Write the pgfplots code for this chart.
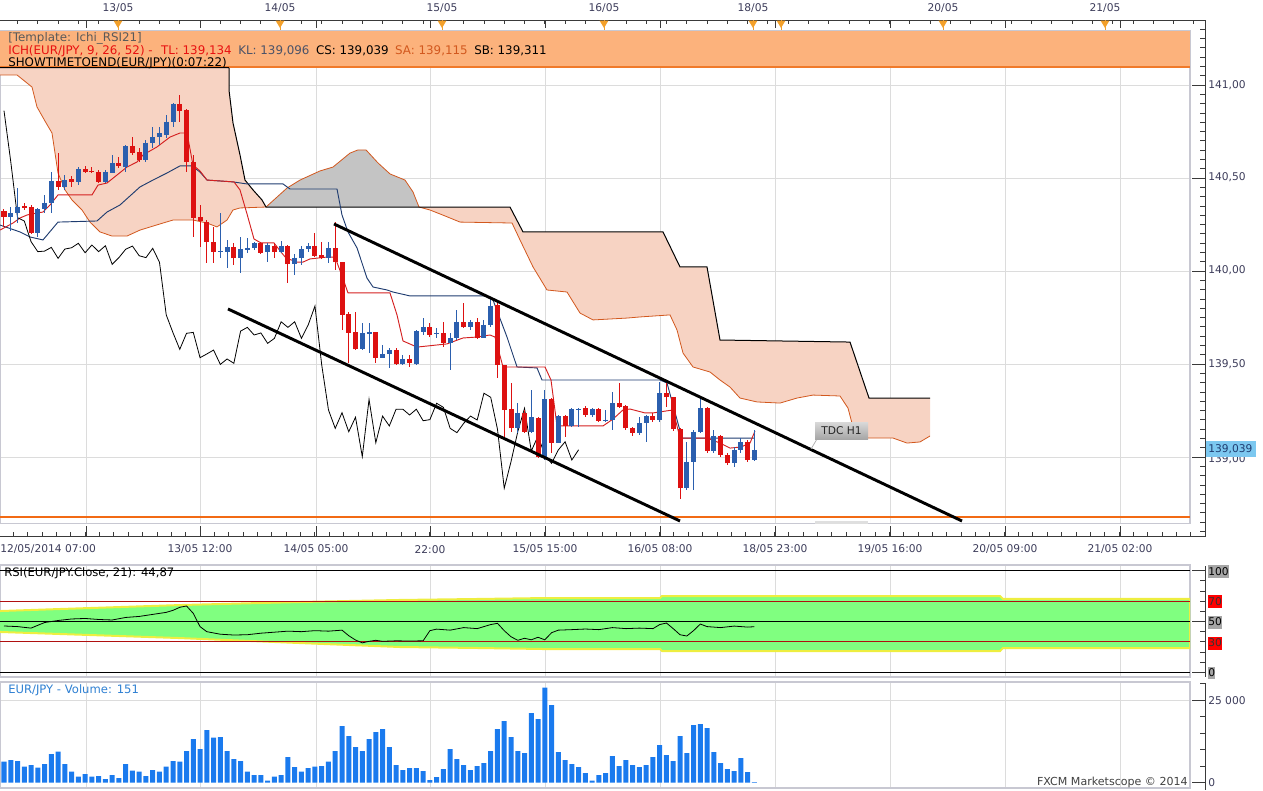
\documentclass[border=0pt]{standalone}
\usepackage{pgfplots}
\pgfplotsset{compat=1.18}
\usepackage{pgfplotstable}
\usepackage{fontspec}
\setmainfont{DejaVu Sans}

\definecolor{upc}{HTML}{2B5FAE}
\definecolor{dnc}{HTML}{DD1111}
\definecolor{tenkan}{HTML}{D42020}
\definecolor{kijun}{HTML}{1F3C70}
\definecolor{sacol}{HTML}{D2581E}
\definecolor{salmon}{HTML}{F7D3C3}
\definecolor{graycloud}{HTML}{C4C4C4}
\definecolor{gridc}{HTML}{DCDCDC}
\definecolor{bordc}{HTML}{C8C8D2}
\definecolor{axc}{HTML}{3A3A3A}
\definecolor{datec}{HTML}{3C3C5A}
\definecolor{headfill}{HTML}{FCB27C}
\definecolor{headline}{HTML}{F07A2A}
\definecolor{ichred}{HTML}{E81010}
\definecolor{klcol}{HTML}{4A5268}
\definecolor{volblue}{HTML}{1A7AEE}
\definecolor{voltext}{HTML}{2E7FD2}
\definecolor{rsigreen}{HTML}{80FF80}
\definecolor{rsiyellow}{HTML}{EEEE40}
\definecolor{rsired}{HTML}{B01010}
\definecolor{hline}{HTML}{F26A14}
\definecolor{pricebox}{HTML}{7CC8F0}
\definecolor{tri}{HTML}{F3A02A}

\pgfplotstableread{
x o h l c
10.76 140.292 140.346 140.217 140.313
17.52 140.313 140.446 140.258 140.346
37.8 140.206 140.339 140.184 140.333
44.56 140.332 140.409 140.312 140.367
51.32 140.367 140.534 140.312 140.486
64.84 140.453 140.516 140.436 140.489
78.36 140.480 140.561 140.462 140.548
105.4 140.480 140.543 140.472 140.534
112.16 140.529 140.624 140.525 140.582
125.68 140.561 140.677 140.534 140.672
145.96 140.597 140.704 140.588 140.690
152.72 140.687 140.776 140.660 140.719
159.48 140.719 140.776 140.677 140.740
166.24 140.731 140.839 140.713 140.803
173 140.803 140.902 140.776 140.898
220.32 140.101 140.310 140.068 140.107
227.08 140.104 140.167 140.015 140.127
240.6 140.068 140.184 139.988 140.118
247.36 140.113 140.177 140.095 140.125
254.12 140.122 140.158 140.113 140.149
267.64 140.101 140.149 140.050 140.140
281.16 140.104 140.161 140.095 140.136
294.68 140.036 140.090 139.979 140.072
301.44 140.072 140.134 140.032 140.117
308.2 140.117 140.149 140.104 140.134
328.48 140.068 140.158 140.041 140.122
362.28 139.579 139.719 139.575 139.665
369.04 139.661 139.719 139.558 139.670
382.56 139.534 139.602 139.531 139.554
389.32 139.552 139.584 139.477 139.575
402.84 139.498 139.548 139.495 139.527
416.36 139.500 139.683 139.497 139.677
423.12 139.674 139.746 139.656 139.697
436.64 139.662 139.692 139.638 139.667
450.16 139.611 139.665 139.468 139.638
456.92 139.638 139.790 139.629 139.727
470.44 139.700 139.737 139.683 139.727
483.96 139.638 139.737 139.638 139.710
490.72 139.710 139.853 139.700 139.812
517.76 139.154 139.289 139.127 139.238
531.28 139.136 139.360 139.127 139.214
544.8 139.002 139.360 138.984 139.310
558.32 139.077 139.226 139.074 139.220
571.84 139.167 139.263 139.163 139.257
578.6 139.252 139.263 139.163 139.257
592.12 139.226 139.263 139.217 139.257
605.64 139.196 139.253 139.190 139.201
612.4 139.199 139.351 139.145 139.289
639.44 139.131 139.217 139.118 139.181
646.2 139.181 139.226 139.082 139.220
659.72 139.199 139.405 139.190 139.343
686.76 138.832 139.082 138.823 138.975
693.52 138.975 139.145 138.823 139.136
700.28 139.136 139.316 139.127 139.262
713.8 139.032 139.145 139.020 139.113
734.08 138.966 139.055 138.948 139.038
740.84 139.038 139.100 139.020 139.082
754.36 138.984 139.145 138.980 139.039
}\upc

\pgfplotstableread{
x o h l c
4 140.324 140.333 140.238 140.292
24.28 140.349 140.366 140.328 140.339
31.04 140.344 140.355 140.204 140.206
58.08 140.486 140.633 140.436 140.453
71.6 140.493 140.511 140.453 140.480
85.12 140.548 140.565 140.525 140.531
91.88 140.538 140.561 140.525 140.532
98.64 140.534 140.543 140.472 140.480
118.92 140.582 140.615 140.552 140.565
132.44 140.672 140.722 140.624 140.636
139.2 140.641 140.661 140.586 140.597
179.76 140.898 140.946 140.803 140.862
186.52 140.866 140.870 140.532 140.588
193.28 140.588 140.624 140.184 140.287
200.04 140.289 140.355 140.131 140.269
206.8 140.265 140.274 140.041 140.158
213.56 140.158 140.238 140.041 140.104
233.84 140.131 140.151 140.032 140.068
260.88 140.149 140.158 140.091 140.098
274.4 140.136 140.149 140.068 140.104
287.92 140.136 140.140 139.934 140.036
314.96 140.134 140.203 140.077 140.082
321.72 140.086 140.158 140.068 140.072
335.24 140.122 140.265 140.005 140.047
342 140.047 140.050 139.683 139.764
348.76 139.767 139.781 139.504 139.668
355.52 139.670 139.781 139.575 139.579
375.8 139.670 139.674 139.504 139.534
396.08 139.575 139.584 139.495 139.498
409.6 139.527 139.548 139.486 139.504
429.88 139.697 139.719 139.647 139.656
443.4 139.665 139.727 139.593 139.611
463.68 139.724 139.826 139.692 139.697
477.2 139.727 139.746 139.634 139.638
497.48 139.817 139.826 139.423 139.495
504.24 139.495 139.495 139.091 139.253
511 139.257 139.396 139.136 139.154
524.52 139.238 139.253 139.127 139.136
538.04 139.208 139.217 138.995 139.002
551.56 139.310 139.315 139.020 139.077
565.08 139.220 139.226 139.109 139.167
585.36 139.262 139.274 139.217 139.226
598.88 139.257 139.263 139.190 139.195
619.16 139.289 139.396 139.262 139.267
625.92 139.274 139.280 139.145 139.154
632.68 139.154 139.163 139.113 139.131
652.96 139.220 139.235 139.190 139.199
666.48 139.343 139.396 139.270 139.321
673.24 139.321 139.324 139.140 139.149
680 139.149 139.154 138.773 138.832
707.04 139.262 139.271 139.020 139.032
720.56 139.113 139.118 139.002 139.011
727.32 139.011 139.020 138.957 138.966
747.6 139.082 139.091 138.975 138.984
}\dnc

\pgfplotstableread{
x v
4 6350
10.76 6850
17.52 6550
24.28 4840
31.04 5340
37.8 4540
44.56 5650
51.32 8670
58.08 9380
64.84 5650
71.6 3330
78.36 1810
85.12 2620
91.88 1810
98.64 2020
105.4 1110
112.16 2320
118.92 1410
125.68 5650
132.44 3630
139.2 3330
145.96 2020
152.72 3830
159.48 3330
166.24 4840
173 6550
179.76 6350
186.52 9580
193.28 13200
200.04 10180
206.8 15930
213.56 13610
220.32 13810
227.08 9580
233.84 7160
240.6 6550
247.36 3330
254.12 2320
260.88 2320
267.64 600
274.4 1810
281.16 2320
287.92 7760
294.68 4740
301.44 3330
308.2 4440
314.96 4840
321.72 5040
328.48 6350
335.24 9580
342 17140
348.76 14110
355.52 10790
362.28 9580
369.04 13200
375.8 15320
382.56 16230
389.32 10790
396.08 5340
402.84 3830
409.6 4440
416.36 4440
423.12 3530
429.88 810
436.64 1710
443.4 4130
450.16 10180
456.92 7160
463.68 5340
470.44 3830
477.2 5040
483.96 5950
490.72 9580
497.48 16230
504.24 18650
511 13810
517.76 9580
524.52 8970
531.28 21070
538.04 19250
544.8 28730
551.56 23490
558.32 9270
565.08 6850
571.84 5650
578.6 4740
585.36 2920
592.12 600
598.88 2320
605.64 2920
612.4 8060
619.16 5040
625.92 6850
632.68 5340
639.44 4740
646.2 5340
652.96 7760
659.72 11390
666.48 8370
673.24 6550
680 14110
686.76 8970
693.52 17440
700.28 17740
707.04 16530
713.8 9270
720.56 5950
727.32 4130
734.08 3530
740.84 7460
747.6 3230
754.36 151
}\vol

\pgfplotstableread{
x p
4 140.862
10.76 140.588
17.52 140.287
24.28 140.269
31.04 140.158
37.8 140.104
44.56 140.107
51.32 140.127
58.08 140.068
64.84 140.118
71.6 140.125
78.36 140.149
85.12 140.098
91.88 140.140
98.64 140.104
105.4 140.136
112.16 140.036
118.92 140.072
125.68 140.117
132.44 140.134
139.2 140.082
145.96 140.072
152.72 140.122
159.48 140.047
166.24 139.764
173 139.668
179.76 139.579
186.52 139.665
193.28 139.670
200.04 139.534
206.8 139.554
213.56 139.575
220.32 139.498
227.08 139.527
233.84 139.504
240.6 139.677
247.36 139.697
254.12 139.656
260.88 139.667
267.64 139.611
274.4 139.638
281.16 139.727
287.92 139.697
294.68 139.727
301.44 139.638
308.2 139.710
314.96 139.812
321.72 139.495
328.48 139.253
335.24 139.154
342 139.238
348.76 139.136
355.52 139.214
362.28 139.002
369.04 139.310
375.8 139.077
382.56 139.220
389.32 139.167
396.08 139.257
402.84 139.257
409.6 139.226
416.36 139.257
423.12 139.195
429.88 139.201
436.64 139.289
443.4 139.267
450.16 139.154
456.92 139.131
463.68 139.181
470.44 139.220
477.2 139.199
483.96 139.343
490.72 139.321
497.48 139.149
504.24 138.832
511 138.975
517.76 139.136
524.52 139.262
531.28 139.032
538.04 139.113
544.8 139.011
551.56 138.966
558.32 139.038
565.08 139.082
571.84 138.984
578.6 139.039
}\chikou

\pgfplotstableread{
x r
4 45.6
17.5 45
31 43.5
44.6 49
58.1 51
71.6 52.5
85.1 53
98.6 52
112.2 51.5
125.7 54
139.2 55
152.7 57
166.2 59
173 61
179.8 64
186.5 65.3
193.3 58
200 45
206.8 40
220.3 37.5
233.8 36.7
247.4 37
260.9 38.5
274.4 39.5
287.9 40.5
301.4 40
315 41
328.5 40.5
342 41.5
348.8 36
355.5 31.8
362.3 29
369 30.5
375.8 31.5
382.6 30.5
396.1 31
409.6 30.8
423.1 31
429.9 41
436.6 42.5
450.2 41.5
463.7 44
477.2 43
490.7 47
497.5 48.2
504.2 41
511 35
517.8 31.5
524.5 33.5
531.3 32
538 34.5
544.8 32
551.6 39
558.3 41.5
571.8 42
585.4 42.6
598.9 42
612.4 44
625.9 43
639.4 43.5
653 43
659.7 47
666.5 48.5
673.2 43
680 37
686.8 35.7
693.5 41
700.3 47.5
707 45
720.6 44
734.1 45.5
747.6 44.5
754.4 44.9
}\rsi

\pgfplotsset{
  panel/.style={scale only axis, width=892.5pt, xmin=0, xmax=1190,
    anchor=north west, axis line style={draw=bordc, line width=1.1pt},
    xtick={86,200,316,430,545,660,775,890,1005,1120}, xticklabels={},
    yticklabels={}, major tick length=0pt, scaled y ticks=false, scaled x ticks=false,
    xmajorgrids, major grid style={draw=gridc, line width=0.75pt}},
  wick/.style={draw=none, mark=none, forget plot,
    error bars/.cd, y dir=both, y explicit, error mark=none,
    error bar style={line width=0.75pt, draw=#1}},
  body/.style={draw=none, mark=none, forget plot,
    error bars/.cd, y dir=both, y explicit, error mark=none,
    error bar style={line width=3.75pt, draw=#1}},
}

\begin{document}
\begin{tikzpicture}
\useasboundingbox (0,0) rectangle (947.25pt,-592.5pt);

% ---------------- main price panel ----------------
\begin{axis}[panel, at={(0pt,-23.25pt)}, height=369.375pt,
  ymin=138.6425, ymax=141.2903, ytick={139,139.5,140,140.5,141}, ymajorgrids]
% cloud fills
\addplot[fill=salmon, draw=none, forget plot] coordinates {
(0,141.054) (17,141.054) (32,140.989) (37,140.882) (45,140.806) (52,140.742)
(58,140.527) (65,140.436) (72,140.382) (82,140.328) (90,140.263) (100,140.210)
(112,140.188) (127,140.188) (140,140.220) (160,140.253) (173,140.274) (193,140.274)
(207,140.258) (217,140.237) (227,140.274) (233,140.328) (240,140.339) (266,140.344)
(262,140.382) (253,140.436) (245,140.489) (240,140.624) (233,140.796) (229,140.973)
(229,141.094) (0,141.094)};
\addplot[fill=graycloud, draw=none, forget plot] coordinates {
(266,140.344) (287,140.446) (300,140.489) (320,140.538) (333,140.559) (350,140.634)
(358,140.651) (366,140.651) (378,140.581) (390,140.522) (405,140.489) (413,140.425)
(419,140.344)};
\addplot[fill=salmon, draw=none, forget plot] coordinates {
(419,140.344) (430,140.328) (445,140.296) (460,140.263) (512,140.258) (520,140.167)
(533,140.022) (547,139.898) (567,139.887) (580,139.774) (593,139.737) (627,139.747)
(640,139.753) (670,139.764) (677,139.683) (683,139.559) (693,139.484) (710,139.457)
(720,139.414) (730,139.376) (740,139.317) (757,139.296) (780,139.290) (797,139.317)
(813,139.333) (840,139.328) (848,139.263) (853,139.161) (867,139.102) (893,139.102)
(907,139.075) (920,139.081) (930,139.113)
(930,139.317) (869,139.317) (850,139.618) (720,139.629) (707,140.022) (680,140.022)
(663,140.210) (523,140.210) (510,140.344)};
% Senkou A
\addplot[sacol, line width=0.6pt, forget plot] coordinates {
(0,141.054) (17,141.054) (32,140.989) (37,140.882) (45,140.806) (52,140.742)
(58,140.527) (65,140.436) (72,140.382) (82,140.328) (90,140.263) (100,140.210)
(112,140.188) (127,140.188) (140,140.220) (160,140.253) (173,140.274) (193,140.274)
(207,140.258) (217,140.237) (227,140.274) (233,140.328) (240,140.339) (266,140.344)
(287,140.446) (300,140.489) (320,140.538) (333,140.559) (350,140.634)
(358,140.651) (366,140.651) (378,140.581) (390,140.522) (405,140.489) (413,140.425)
(419,140.344) (430,140.328) (445,140.296) (460,140.263) (512,140.258) (520,140.167)
(533,140.022) (547,139.898) (567,139.887) (580,139.774) (593,139.737) (627,139.747)
(640,139.753) (670,139.764) (677,139.683) (683,139.559) (693,139.484) (710,139.457)
(720,139.414) (730,139.376) (740,139.317) (757,139.296) (780,139.290) (797,139.317)
(813,139.333) (840,139.328) (848,139.263) (853,139.161) (867,139.102) (893,139.102)
(907,139.075) (920,139.081) (930,139.113)};
% Senkou B
\addplot[black, line width=0.75pt, forget plot] coordinates {
(0,141.094) (229,141.094) (229,140.973) (233,140.796) (240,140.624) (245,140.489)
(253,140.436) (262,140.382) (266,140.344) (510,140.344) (523,140.210) (663,140.210)
(680,140.022) (707,140.022) (720,139.629) (850,139.618) (869,139.317) (930,139.317)};
% Kijun
\addplot[kijun, line width=0.7pt, forget plot] coordinates {
(0,140.247) (20,140.210) (30,140.183) (43,140.167) (58,140.263) (97,140.269)
(107,140.317) (120,140.355) (140,140.452) (153,140.489) (167,140.527) (180,140.565)
(192,140.565) (200,140.532) (207,140.489) (233,140.479) (247,140.468) (283,140.468)
(290,140.441) (337,140.441) (342,140.301) (348,140.210) (357,140.124) (367,139.962)
(373,139.914) (387,139.898) (393,139.887) (410,139.866) (487,139.866) (493,139.844)
(507,139.645) (517,139.484) (537,139.479) (542,139.414) (660,139.414) (667,139.398)
(682,139.102) (754,139.102)};
% Tenkan
\addplot[tenkan, line width=0.7pt, forget plot] coordinates {
(0,140.220) (13,140.258) (20,140.285) (27,140.301) (37,140.312) (43,140.317)
(50,140.355) (58,140.409) (92,140.409) (98,140.462) (107,140.473) (117,140.516)
(127,140.559) (137,140.586) (143,140.624) (157,140.667) (170,140.720) (180,140.742)
(187,140.742) (193,140.570) (200,140.538) (207,140.489) (234,140.479) (240,140.436)
(247,140.307) (254,140.172) (261,140.151) (274,140.151) (281,140.102) (286,140.070)
(297,140.048) (303,140.048) (310,140.065) (327,140.075) (335,140.075) (342,139.974)
(348,139.882) (390,139.882) (397,139.764) (403,139.624) (417,139.591) (447,139.608)
(463,139.640) (477,139.645) (490,139.656) (495,139.645) (503,139.484) (545,139.484)
(551,139.414) (557,139.167) (603,139.167) (613,139.204) (623,139.253) (630,139.258)
(645,139.237) (653,139.237) (673,139.253) (680,139.102) (707,139.102) (720,139.075)
(730,139.048) (741,139.054) (750,139.075) (755,139.140)};
% Chikou
\addplot[black, line width=0.6pt, forget plot] table[x=x, y=p] {\chikou};
% support level
\addplot[hline, line width=1.5pt, forget plot] coordinates {(0,138.677) (1190,138.677)};
% candles
\addplot[wick=upc] table[x=x, y=c, y error plus expr=\thisrow{h}-\thisrow{c}, y error minus expr=\thisrow{c}-\thisrow{l}] {\upc};
\addplot[wick=dnc] table[x=x, y=c, y error plus expr=\thisrow{h}-\thisrow{c}, y error minus expr=\thisrow{c}-\thisrow{l}] {\dnc};
\addplot[body=upc] table[x=x, y=c, y error plus expr=0, y error minus expr=\thisrow{c}-\thisrow{o}] {\upc};
\addplot[body=dnc] table[x=x, y=c, y error plus expr=\thisrow{o}-\thisrow{c}, y error minus expr=0] {\dnc};
% trend channel
\addplot[black, line width=2.2pt, forget plot] coordinates {(334,140.253) (962,138.656)};
\addplot[black, line width=2.2pt, forget plot] coordinates {(228,139.796) (680,138.656)};
\end{axis}

% ---------------- RSI panel ----------------
\begin{axis}[panel, at={(0pt,-423.75pt)}, height=84pt,
  ymin=-4.63, ymax=105.61, ytick=\empty]
\addplot[fill=rsigreen, draw=rsiyellow, line width=1.5pt, forget plot] coordinates {
(0,60.3) (60,62.3) (180,66.2) (300,69.2) (400,71.2) (480,72.2) (545,73.1) (660,73.1)
(662,75.1) (1000,75.1) (1003,72.2) (1190,72.2)
(1190,23.9) (1003,23.9) (1000,20.9) (662,20.9) (660,22.9) (545,22.9) (480,23.9)
(400,24.9) (300,28.8) (180,33.7) (60,37.7) (0,39.7)};
\addplot[black, line width=0.8pt, forget plot] coordinates {(0,100) (1190,100)};
\addplot[black, line width=0.8pt, forget plot] coordinates {(0,50) (1190,50)};
\addplot[black, line width=0.8pt, forget plot] coordinates {(0,0) (1190,0)};
\addplot[rsired, line width=0.9pt, forget plot] coordinates {(0,70) (1190,70)};
\addplot[rsired, line width=0.9pt, forget plot] coordinates {(0,30) (1190,30)};
\addplot[black, line width=0.6pt, forget plot] table[x=x, y=r] {\rsi};
\end{axis}

% ---------------- volume panel ----------------
\begin{axis}[panel, at={(0pt,-511.5pt)}, height=79.5pt,
  ymin=-1602, ymax=30442, ytick={25000}, ymajorgrids]
\addplot[ybar, bar width=3.75pt, bar shift=0pt, fill=volblue, draw=none, forget plot] table[x=x, y=v] {\vol};
\end{axis}

% ---------------- decorations & text ----------------
\begin{scope}[x=0.75pt, y=-0.75pt, every node/.style={font=\fontsize{8}{9.6}\selectfont, inner sep=0pt}]
% header band
\fill[headfill] (0,31) rectangle (1190,67);
\draw[headline, line width=1.1pt] (0,67) -- (1190,67);
\draw[black, line width=0.6pt] (0,67.5) -- (229,67.5);
\begin{scope}[every node/.style={font=\fontsize{8.9}{10.5}\selectfont, inner sep=0pt}]
\node[anchor=west, text=black!65] at (8,38.5) {[Template: Ichi\_RSI21]};
\node[anchor=west] at (8,51.5) {\color{ichred}ICH(EUR/JPY, 9, 26, 52) -\hspace{0.7em}TL: 139,134\hspace{0.55em}\color{klcol}KL: 139,096\hspace{0.55em}\color{black}CS: 139,039\hspace{0.55em}\color{sacol}SA: 139,115\hspace{0.55em}\color{black}SB: 139,311};
\node[anchor=west] at (8,63.5) {SHOWTIMETOEND(EUR/JPY)(0:07:22)};
\end{scope}

% outer frame of the price panel
\draw[axc, line width=0.75pt] (0,20) -- (1205,20) -- (1205,536) -- (0,536);
\foreach \i in {0,...,58} \draw[axc, line width=0.6pt] ({17.5+20.28*\i},20) -- ++(0,4);
\foreach \x in {86,200,316,430,545,660,775,890,1005,1120} {
  \draw[axc, line width=0.6pt] (\x,20) -- ++(0,8);
  \draw[axc, line width=0.6pt] (\x,536) -- ++(0,-10);
}
\foreach \i in {0,...,82} \draw[axc, line width=0.6pt] ({13.3+14.36*\i},536) -- ++(0,-4);
\foreach \x in {118,280,442,604,753,781,943,1105} {
  \draw[tri, line width=0.6pt] (\x,20) -- (\x,30);
  \fill[tri] (\x-4.5,20.5) -- (\x+4.5,20.5) -- (\x,28) -- cycle;
}
\foreach \k in {-6,...,48} \draw[axc, line width=0.6pt] (1205,{85+9.3*\k}) -- ++(-5,0);
\foreach \y in {85,178,271,364,457} \draw[axc, line width=0.6pt] (1205,\y) -- ++(-13,0);

% top dates
\node[text=datec] at (118,8.5) {13/05};
\node[text=datec] at (280,8.5) {14/05};
\node[text=datec] at (442,8.5) {15/05};
\node[text=datec] at (604,8.5) {16/05};
\node[text=datec] at (753,8.5) {18/05};
\node[text=datec] at (943,8.5) {20/05};
\node[text=datec] at (1105,8.5) {21/05};
% bottom times
\node[anchor=west, text=datec] at (0,549.5) {12/05/2014 07:00};
\node[text=datec] at (200,549.5) {13/05 12:00};
\node[text=datec] at (316,549.5) {14/05 05:00};
\node[text=datec] at (430,549.5) {22:00};
\node[text=datec] at (545,549.5) {15/05 15:00};
\node[text=datec] at (660,549.5) {16/05 08:00};
\node[text=datec] at (775,549.5) {18/05 23:00};
\node[text=datec] at (890,549.5) {19/05 16:00};
\node[text=datec] at (1005,549.5) {20/05 09:00};
\node[text=datec] at (1120,549.5) {21/05 02:00};

% right price labels
\node[anchor=west, text=datec] at (1208,85.5) {141,00};
\node[anchor=west, text=datec] at (1208,177.5) {140,50};
\node[anchor=west, text=datec] at (1208,270.5) {140,00};
\node[anchor=west, text=datec] at (1208,364.5) {139,50};
\node[anchor=west, text=datec] at (1208,459) {139,00};
\fill[pricebox] (1206,441) rectangle (1256,457);
\node[anchor=west, text=kijun] at (1208,449.5) {139,039};

% TDC H1 label
\draw[gray!60, line width=0.6pt] (811,449) -- (817,439);
\shade[top color=gray!30, bottom color=gray!70] (815,422) rectangle (868,439);
\node[text=black!85] at (841.5,430.5) {TDC H1};
\fill[gray!25] (815,520.5) rectangle (868,523.5);

% RSI panel axis and labels
\draw[axc, line width=0.75pt] (1205,566) -- (1205,677);
\foreach \k in {0,...,10} \draw[axc, line width=0.6pt] (1205,{672.3-10.16*\k}) -- ++(-5,0);
\foreach \y in {570.7,621.5,672.3} \draw[axc, line width=0.6pt] (1205,\y) -- ++(-13,0);
\fill[gray!70] (1207.5,565) rectangle (1229,577.5);
\node[anchor=west] at (1208,571.5) {100};
\fill[red] (1207.5,595) rectangle (1221.5,607.5);
\node[anchor=west, text=black!80] at (1208,601.5) {70};
\fill[gray!70] (1207.5,616) rectangle (1221.5,628.5);
\node[anchor=west] at (1208,622) {50};
\fill[red] (1207.5,636.5) rectangle (1221.5,649.5);
\node[anchor=west, text=black!80] at (1208,643) {30};
\fill[gray!70] (1207.5,666.5) rectangle (1215,679);
\node[anchor=west] at (1208,672.5) {0};
\node[anchor=west, font=\fontsize{8.7}{10}\selectfont] at (4,573) {RSI(EUR/JPY.Close, 21): 44,87};

% volume panel axis and labels
\draw[axc, line width=0.75pt] (1205,683) -- (1205,790);
\foreach \k in {0,...,6} \draw[axc, line width=0.6pt] (1205,{782.7-16.54*\k}) -- ++(-5,0);
\draw[axc, line width=0.6pt] (1205,700) -- ++(-13,0);
\draw[axc, line width=0.6pt] (1205,782.7) -- ++(-13,0);
\node[anchor=west, text=datec] at (1208,700.5) {25 000};
\node[anchor=west, text=datec] at (1208,783) {0};
\node[anchor=west, text=voltext, font=\fontsize{8.7}{10}\selectfont] at (8,690.5) {EUR/JPY - Volume: 151};
\node[anchor=east, text=black!75, font=\fontsize{8.3}{10}\selectfont] at (1188,782) {FXCM Marketscope © 2014};
\end{scope}
\end{tikzpicture}
\end{document}
